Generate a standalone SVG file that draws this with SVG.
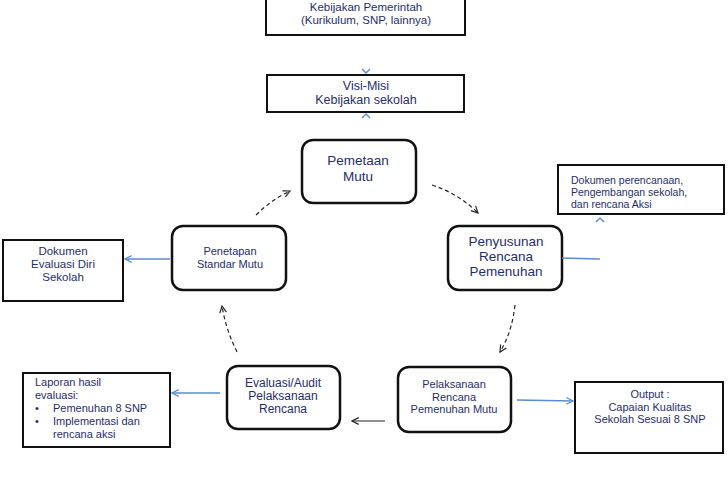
<svg xmlns="http://www.w3.org/2000/svg" width="728" height="484" viewBox="0 0 728 484">
<style>
text{font-family:"Liberation Sans",Arial,sans-serif;fill:#1f2d6b}
.box{fill:#fff;stroke:#111;stroke-width:2}
.node{fill:#fff;stroke:#111;stroke-width:2.5}
.c{text-anchor:middle}
.dash{fill:none;stroke:#222;stroke-width:1.2;stroke-dasharray:4 3}
.solid{fill:none;stroke:#222;stroke-width:1.2}
.blue{fill:none;stroke:#5b8bd0;stroke-width:1.4}
</style>
<defs>
<marker id="ak" viewBox="0 0 10 10" refX="9" refY="5" markerWidth="7" markerHeight="7" orient="auto"><path d="M1,1 L9,5 L1,9" fill="none" stroke="#222" stroke-width="1.4"/></marker>
<marker id="ab" viewBox="0 0 10 10" refX="9" refY="5" markerWidth="6" markerHeight="6" orient="auto"><path d="M1,1 L9,5 L1,9" fill="none" stroke="#5b8bd0" stroke-width="1.4"/></marker>
</defs>
<rect width="728" height="484" fill="#fff"/>

<g id="kebijakan-pemerintah">
<rect class="box" x="266" y="-2" width="199" height="37"/>
<text class="c" x="366" y="11" font-size="11.5">Kebijakan Pemerintah</text>
<text class="c" x="366" y="24" font-size="11.5">(Kurikulum, SNP, lainnya)</text>
</g>

<g id="visi-misi">
<rect class="box" x="267" y="75" width="197" height="37"/>
<text class="c" x="366" y="89.5" font-size="12.5">Visi-Misi</text>
<text class="c" x="366" y="104" font-size="12.5">Kebijakan sekolah</text>
</g>

<g id="pemetaan-mutu">
<rect class="node" x="302" y="140" width="114" height="63" rx="11"/>
<text class="c" x="358" y="165" font-size="13.5">Pemetaan</text>
<text class="c" x="358" y="180.5" font-size="13.5">Mutu</text>
</g>

<g id="dokumen-perencanaan">
<rect class="box" x="558" y="165" width="166" height="49"/>
<text x="571" y="184" font-size="10.5">Dokumen perencanaan,</text>
<text x="571" y="196" font-size="10.5">Pengembangan sekolah,</text>
<text x="571" y="208" font-size="10.5">dan rencana Aksi</text>
</g>

<g id="penyusunan-rencana">
<rect class="node" x="448" y="226" width="114" height="64" rx="11"/>
<text class="c" x="506" y="246" font-size="13.5">Penyusunan</text>
<text class="c" x="506" y="261" font-size="13.5">Rencana</text>
<text class="c" x="506" y="276" font-size="13.5">Pemenuhan</text>
</g>

<g id="penetapan-standar">
<rect class="node" x="172" y="226" width="114" height="64" rx="11"/>
<text class="c" x="230" y="255" font-size="11">Penetapan</text>
<text class="c" x="230" y="267.5" font-size="11">Standar Mutu</text>
</g>

<g id="dokumen-evaluasi">
<rect class="box" x="3" y="240" width="120" height="61"/>
<text class="c" x="63" y="255" font-size="11.5">Dokumen</text>
<text class="c" x="63" y="268" font-size="11.5">Evaluasi Diri</text>
<text class="c" x="63" y="281" font-size="11.5">Sekolah</text>
</g>

<g id="pelaksanaan-rencana">
<rect class="node" x="398" y="367" width="113" height="65" rx="11"/>
<text class="c" x="454" y="388" font-size="11">Pelaksanaan</text>
<text class="c" x="454" y="400.5" font-size="11">Rencana</text>
<text class="c" x="454" y="413" font-size="11">Pemenuhan Mutu</text>
</g>

<g id="evaluasi-audit">
<rect class="node" x="227" y="366" width="113" height="63" rx="11"/>
<text class="c" x="283" y="387" font-size="12">Evaluasi/Audit</text>
<text class="c" x="283" y="400" font-size="12">Pelaksanaan</text>
<text class="c" x="283" y="413" font-size="12">Rencana</text>
</g>

<g id="output">
<rect class="box" x="575" y="382" width="148" height="71"/>
<text class="c" x="650" y="398" font-size="11">Output :</text>
<text class="c" x="650" y="410.5" font-size="11">Capaian Kualitas</text>
<text class="c" x="650" y="423" font-size="11">Sekolah Sesuai 8 SNP</text>
</g>

<g id="laporan-evaluasi">
<rect class="box" x="23" y="373" width="147" height="74"/>
<text x="35" y="386" font-size="11">Laporan hasil</text>
<text x="35" y="398.5" font-size="11">evaluasi:</text>
<text x="35" y="412" font-size="11">•</text>
<text x="53" y="412" font-size="11">Pemenuhan 8 SNP</text>
<text x="35" y="425" font-size="11">•</text>
<text x="53" y="425" font-size="11">Implementasi dan</text>
<text x="53" y="438" font-size="11">rencana aksi</text>
</g>

<g id="connectors">
<path class="dash" d="M256,215 Q271,200 290,191" marker-end="url(#ak)"/>
<path class="dash" d="M432,185 Q459,194 478,213" marker-end="url(#ak)"/>
<path class="dash" d="M515,305 Q512,332 500,352" marker-end="url(#ak)"/>
<path class="dash" d="M237,352 Q226,330 222,306" marker-end="url(#ak)"/>
<path class="solid" d="M385,421 L352,421" marker-end="url(#ak)"/>
<path class="blue" d="M170,259 L125,259" marker-end="url(#ab)"/>
<path class="blue" d="M220,393 L172,393" marker-end="url(#ab)"/>
<path class="blue" d="M517,400 L573,401" marker-end="url(#ab)"/>
<path class="blue" d="M562,258 L600,259"/>
<path class="blue" d="M362,69 L366,73 L370,69" stroke-width="1.1"/>
<path class="blue" d="M362,118 L366,114 L370,118" stroke-width="1.1"/>
<path class="blue" d="M596,222 L600,218 L604,222" stroke-width="1.1"/>
</g>
</svg>
